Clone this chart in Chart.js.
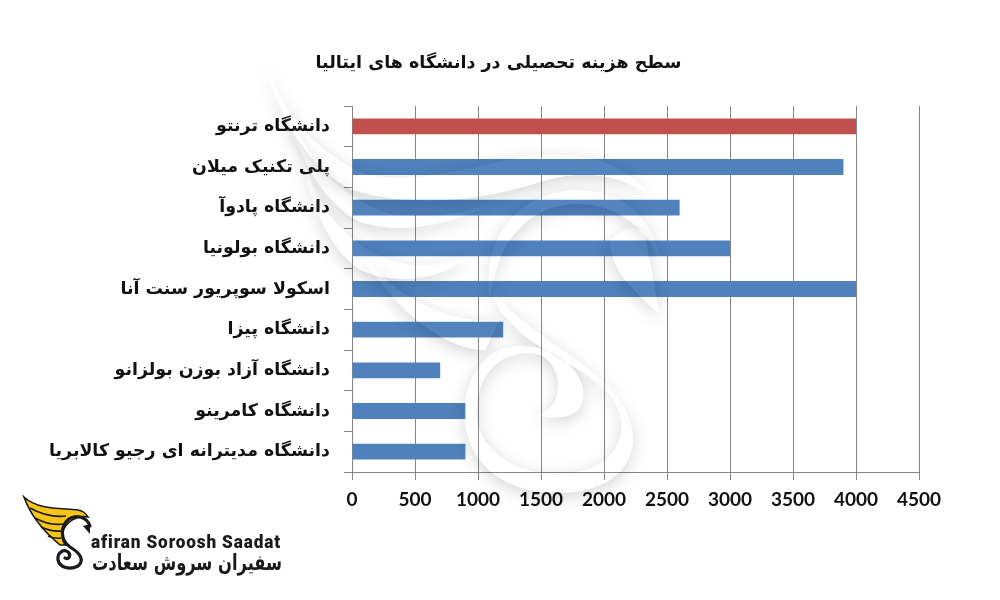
<!DOCTYPE html>
<html><head><meta charset="utf-8">
<style>html,body{margin:0;padding:0;background:#fff}#w{width:1000px;height:600px}canvas{display:block}</style>
<script src="https://cdn.jsdelivr.net/npm/chart.js@4/dist/chart.umd.min.js"></script>
</head><body><div id="w"><canvas id="c" width="1000" height="600"></canvas></div>
<script>
const categories = ["دانشگاه ترنتو","پلی تکنیک میلان","دانشگاه پادوآ","دانشگاه بولونیا","اسکولا سوپریور سنت آنا","دانشگاه پیزا","دانشگاه آزاد بوزن بولزانو","دانشگاه کامرینو","دانشگاه مدیترانه ای رجیو کالابریا"];
const values = [4000,3900,2600,3000,4000,1200,700,900,900];
const barColors = ["#C0504D","#4F81BD","#4F81BD","#4F81BD","#4F81BD","#4F81BD","#4F81BD","#4F81BD","#4F81BD"];
const titleText = "سطح هزینه تحصیلی در دانشگاه های ایتالیا";
const logoLatin = "afiran Soroosh Saadat";
const logoPersian = "سفیران سروش سعادت";
const labelFont = "'DejaVu Sans'";
const numFont = "Lato";

const watermarkPaths = [
 "M265 62 C285 120 320 150 352 168 C400 192 470 165 530 156 C590 150 625 165 650 195 C615 172 580 170 540 182 C470 205 400 205 352 190 C315 172 280 125 265 62Z",
 "M285 102 C300 150 335 195 385 212 C420 222 465 212 490 205 C450 225 400 235 360 222 C325 205 298 160 285 102Z",
 "M300 150 C315 205 345 245 395 262 C425 270 455 262 470 255 C440 282 395 285 360 270 C330 250 310 205 300 150Z",
 "M352 240 C385 290 440 325 500 320 L485 350 C440 350 385 300 352 240Z",
 "M490 300 C480 225 530 190 580 190 C630 192 655 225 660 260 C640 215 600 200 565 205 C520 212 495 250 490 300Z",
 "M610 240 C625 225 640 225 645 235 C650 262 655 290 660 315 C640 295 610 275 610 240Z",
 "M493 290 C520 330 590 360 615 395 C640 425 640 460 610 480 C585 497 530 500 495 475 C455 445 455 385 490 355 C520 335 570 350 582 385 C590 415 565 422 535 415 C565 412 565 365 540 355 C500 345 470 380 478 425 C490 465 540 482 585 470 C625 458 630 420 610 395 C580 360 500 340 493 290Z"
];

const watermark = {
  id: "watermark",
  afterDatasetsDraw(chart) {
    const ctx = chart.ctx;
    const far = 3000;
    for (const d of watermarkPaths) {
      const p = new Path2D(d);
      const cut = new Path2D();
      cut.rect(0, 0, 1000, 600);
      cut.addPath(p);
      ctx.save();
      ctx.clip(cut, "evenodd");
      ctx.shadowColor = "rgba(0,0,0,0.17)";
      ctx.shadowBlur = 16;
      ctx.shadowOffsetX = far;
      ctx.shadowOffsetY = 4;
      ctx.translate(-far, 0);
      ctx.fillStyle = "#000";
      ctx.fill(p);
      ctx.restore();
      ctx.save();
      ctx.fillStyle = "rgba(255,255,255,0.03)";
      ctx.fill(p);
      ctx.restore();
    }
  }
};

const chartTitle = {
  id: "chartTitle",
  afterDraw(chart) {
    const ctx = chart.ctx;
    ctx.save();
    ctx.fillStyle = "#111";
    ctx.textAlign = "center";
    ctx.textBaseline = "middle";
    ctx.font = "bold 17.5px " + labelFont;
    ctx.fillText(titleText, 498.5, 63);
    ctx.restore();
  }
};

const logo = {
  id: "logo",
  afterDraw(chart) {
    const ctx = chart.ctx;
    ctx.save();
    ctx.fillStyle = "#F7C515";
    ctx.strokeStyle = "#1a1a1a";
    ctx.lineWidth = 1.6;
    const wing = new Path2D("M24 497 C38 510 60 508 78 510 C84 511 86 514 88 517 C76 515 66 522 62 533 C62 538 63 543 66 545 L60 545 C48 535 32 520 24 497Z");
    ctx.fill(wing); ctx.stroke(wing);
    ctx.beginPath();
    ctx.moveTo(30,508); ctx.quadraticCurveTo(48,518,66,516);
    ctx.moveTo(35,518); ctx.quadraticCurveTo(50,526,63,524);
    ctx.moveTo(41,527); ctx.quadraticCurveTo(52,532,61,531);
    ctx.moveTo(48,536); ctx.quadraticCurveTo(55,539,61,538);
    ctx.stroke();
    ctx.lineWidth = 3.2;
    ctx.lineCap = "round";
    const swan = new Path2D("M90 526 C87 517 76 514 69 519 C60 526 60 540 70 547 C80 553 85 560 78 566 C70 570 60 568 58 560 C57 552 64 549 68 552 C72 556 68 560 65 558");
    ctx.stroke(swan);
    ctx.fillStyle = "#1a1a1a";
    ctx.beginPath(); ctx.moveTo(83,526); ctx.lineTo(90,524); ctx.lineTo(90,534); ctx.closePath(); ctx.fill();
    ctx.textBaseline = "alphabetic";
    ctx.fillStyle = "#1a1a1a";
    ctx.textAlign = "left";
    ctx.font = "900 18px Roboto";
    ctx.letterSpacing = "0.9px";
    ctx.fillText(logoLatin, 91, 548, 190);
    ctx.letterSpacing = "0px";
    ctx.textAlign = "right";
    ctx.font = "bold 22px " + labelFont;
    ctx.fillText(logoPersian, 282, 570, 190);
    ctx.restore();
  }
};

new Chart(document.getElementById("c"), {
  type: "bar",
  data: { labels: categories, datasets: [{ data: values, backgroundColor: barColors, barPercentage: 0.39, categoryPercentage: 1 }] },
  plugins: [watermark, chartTitle, logo],
  options: {
    indexAxis: "y", responsive: false, animation: false,
    layout: { padding: { left: 0, top: 106, right: 81, bottom: 88 } },
    plugins: { legend: { display: false }, tooltip: { enabled: false }, title: { display: false } },
    scales: {
      x: {
        min: 0, max: 4500,
        ticks: { stepSize: 500, color: "#111", font: { family: numFont, size: 19, weight: "bold" }, padding: 8, maxRotation: 0, callback: v => String(v) },
        grid: { color: "#868686", tickLength: 8, lineWidth: 1 },
        border: { color: "#868686" },
        afterFit(s) { s.height = 40; }
      },
      y: {
        ticks: { color: "#111", font: { family: labelFont, size: 17.4, weight: "bold" }, padding: 14, autoSkip: false },
        grid: { drawOnChartArea: false, color: "#868686", tickLength: 8 },
        border: { color: "#868686" },
        afterFit(s) { s.width = 352; }
      }
    }
  }
});
</script></body></html>
